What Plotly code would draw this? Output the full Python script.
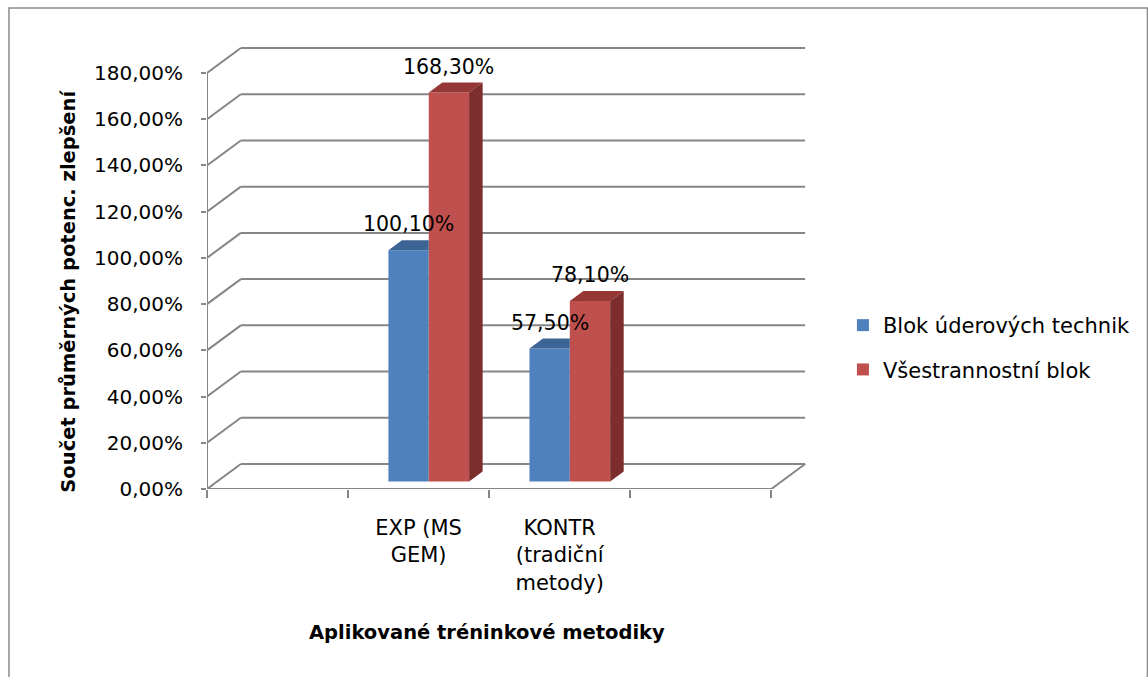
import plotly.graph_objects as go

# ---- data -------------------------------------------------------------
# four category slots on the axis; the outer two stay empty
slot_labels = ["", "EXP (MS<br>GEM)", "KONTR<br>(tradiční<br>metody)", ""]
categories = ["EXP (MS GEM)", "KONTR (tradiční metody)"]
category_slots = [1, 2]

series_names = ["Blok úderových technik", "Všestrannostní blok"]
blok_uderovych_technik = [100.1, 57.5]
vsestrannostni_blok = [168.3, 78.1]

y_tick_values = [0, 20, 40, 60, 80, 100, 120, 140, 160, 180]

# ---- styling ----------------------------------------------------------
FONT = "DejaVu Sans"
GRID = "#868686"
front_colors = ["#4F81BD", "#C0504D"]
top_colors = ["#3C6494", "#953735"]
side_colors = ["#33557E", "#7D2E2C"]

W, H = 1148, 677
PLOT_L, PLOT_R, PLOT_T, PLOT_B = 207, 830, 30, 489
SLOT_PX = 141.75            # pixels per category slot
UNIT_PX = 416 / 180         # pixels per percentage point

x_min = -0.5
x_max = x_min + (PLOT_R - PLOT_L) / SLOT_PX
y_max = (PLOT_B - PLOT_T) / UNIT_PX
slot_edge = len(slot_labels) - 0.5

# oblique depth of the floor/walls in data units
DEPTH_X = 34 / SLOT_PX
DEPTH_Y = 25 / UNIT_PX
BAR_FRONT = 0.3             # bars start 30 % into the depth
BAR_DEPTH = 0.4             # and are 40 % of it deep
BAR_W = 0.286

shift_x = BAR_FRONT * DEPTH_X
bar_base = BAR_FRONT * DEPTH_Y
bdx = BAR_DEPTH * DEPTH_X
bdy = BAR_DEPTH * DEPTH_Y


def px_x(px):
    return (px - PLOT_L) / (PLOT_R - PLOT_L)


def px_y(py):
    return (PLOT_B - py) / (PLOT_B - PLOT_T)


def pct(v):
    return f"{v:.2f}".replace(".", ",") + "%"


series_values = [blok_uderovych_technik, vsestrannostni_blok]
offsets = [-BAR_W + shift_x, shift_x]

fig = go.Figure()

# front faces of the columns
for s, (name, vals) in enumerate(zip(series_names, series_values)):
    fig.add_trace(go.Bar(
        x=category_slots, y=vals, base=[bar_base] * len(vals),
        offset=offsets[s], width=BAR_W, name=name,
        marker=dict(color=front_colors[s], line=dict(width=0)),
        legendgroup=name, hoverinfo="skip",
    ))

annotations = []

# top and side faces, drawn as filled polygons
for s, vals in enumerate(series_values):
    for i, v in enumerate(vals):
        xl = category_slots[i] + offsets[s]
        xr = xl + BAR_W
        top = bar_base + v
        nxt = series_values[s + 1][i] if s + 1 < len(series_values) else None
        hidden_by_next = nxt is not None and nxt >= v
        back_r = xr if hidden_by_next else xr + bdx
        fig.add_trace(go.Scatter(
            x=[xl, xl + bdx, back_r, xr, xl],
            y=[top, top + bdy, top + bdy, top, top],
            mode="lines", fill="toself", fillcolor=top_colors[s],
            line=dict(width=0, color=top_colors[s]),
            showlegend=False, hoverinfo="skip",
        ))
        if not hidden_by_next:
            fig.add_trace(go.Scatter(
                x=[xr, xr + bdx, xr + bdx, xr, xr],
                y=[bar_base, bar_base + bdy, top + bdy, top, bar_base],
                mode="lines", fill="toself", fillcolor=side_colors[s],
                line=dict(width=0, color=side_colors[s]),
                showlegend=False, hoverinfo="skip",
            ))
        annotations.append(dict(
            x=xl + BAR_W / 2, y=top + bdy, xref="x", yref="y",
            text=pct(v), showarrow=False, yanchor="bottom", yshift=2,
            font=dict(family=FONT, size=20.5, color="black"),
        ))

# walls and floor of the 3-D frame
shapes = []
line_style = dict(color=GRID, width=2)
for v in y_tick_values:
    # back-wall gridline
    shapes.append(dict(type="line", xref="x", yref="y",
                       x0=x_min + DEPTH_X, x1=slot_edge + DEPTH_X,
                       y0=v + DEPTH_Y, y1=v + DEPTH_Y,
                       line=line_style, layer="below"))
    # side-wall diagonal
    shapes.append(dict(type="line", xref="x", yref="y",
                       x0=x_min, x1=x_min + DEPTH_X,
                       y0=v, y1=v + DEPTH_Y,
                       line=line_style, layer="below"))
# front value axis
shapes.append(dict(type="line", xref="x", yref="y",
                   x0=x_min, x1=x_min, y0=0, y1=y_tick_values[-1],
                   line=line_style, layer="below"))
# front and right edges of the floor
shapes.append(dict(type="line", xref="x", yref="y",
                   x0=x_min, x1=slot_edge, y0=0, y1=0,
                   line=line_style, layer="below"))
shapes.append(dict(type="line", xref="x", yref="y",
                   x0=slot_edge, x1=slot_edge + DEPTH_X, y0=0, y1=DEPTH_Y,
                   line=line_style, layer="below"))
# chart area border
shapes.append(dict(type="rect", xref="paper", yref="paper",
                   x0=px_x(8), x1=px_x(W + 4), y0=px_y(H + 4), y1=px_y(8),
                   line=dict(color="#8C8C8C", width=1.5), layer="below"))

# axis titles
annotations.append(dict(
    x=px_x(67), y=px_y(291), xref="paper", yref="paper",
    text="Součet průměrných potenc. zlepšení", textangle=-90,
    showarrow=False, xanchor="center", yanchor="middle",
    font=dict(family=FONT, size=19.5, color="black", weight="bold"),
))
annotations.append(dict(
    x=px_x(488), y=px_y(632), xref="paper", yref="paper",
    text="Aplikované tréninkové metodiky",
    showarrow=False, xanchor="center", yanchor="middle",
    font=dict(family=FONT, size=19.5, color="black", weight="bold"),
))

fig.update_layout(
    width=W, height=H,
    margin=dict(l=PLOT_L, r=W - PLOT_R, t=PLOT_T, b=H - PLOT_B, pad=0),
    paper_bgcolor="white", plot_bgcolor="white",
    separators=", ",
    barmode="overlay",
    showlegend=True,
    legend=dict(
        x=px_x(846), y=px_y(305), xanchor="left", yanchor="top",
        font=dict(family=FONT, size=21, color="black"),
        tracegroupgap=14, bgcolor="rgba(0,0,0,0)",
    ),
    xaxis=dict(
        range=[x_min, x_max], showgrid=False, zeroline=False, showline=False,
        tickmode="array", tickvals=[0, 1, 2, 3], ticktext=slot_labels,
        ticks="", ticklabelstandoff=24,
        tickfont=dict(family=FONT, size=21, color="black"),
        minor=dict(tickmode="array",
                   tickvals=[k - 0.5 for k in range(len(slot_labels) + 1)],
                   ticks="outside", ticklen=8, tickwidth=2, tickcolor=GRID,
                   showgrid=False),
        fixedrange=True,
    ),
    yaxis=dict(
        range=[0, y_max], showgrid=False, zeroline=False, showline=False,
        tickmode="array", tickvals=y_tick_values,
        ticktext=[pct(v) for v in y_tick_values],
        ticks="outside", ticklen=5, tickwidth=2, tickcolor=GRID,
        ticklabelstandoff=14,
        tickfont=dict(family=FONT, size=20, color="black"),
        fixedrange=True,
    ),
    shapes=shapes,
    annotations=annotations,
)

fig.write_html("out.html")
